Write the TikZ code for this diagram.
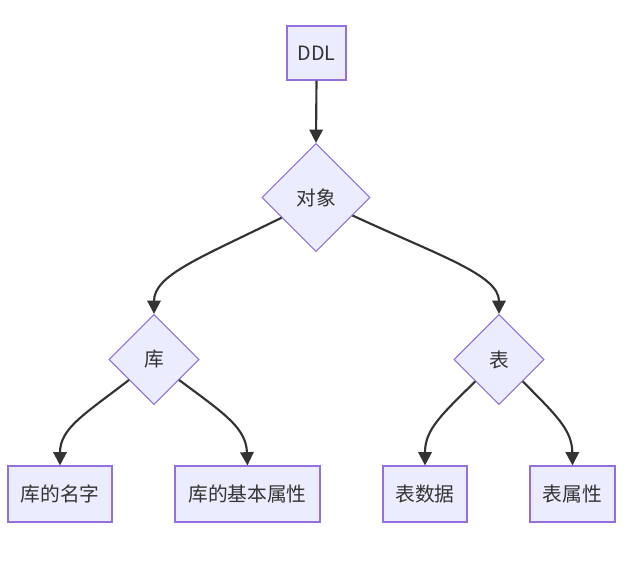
\documentclass[tikz,border=0pt]{standalone}
\usepackage{fontspec}
\setmainfont{Noto Sans CJK SC}
\usetikzlibrary{shapes.geometric,arrows.meta,calc}
\definecolor{nfill}{HTML}{ECECFF}
\definecolor{nstroke}{HTML}{9370DB}
\definecolor{edge}{HTML}{333333}
\begin{document}
\begin{tikzpicture}[x=0.75pt,y=-0.75pt,
  base/.style={fill=nfill,draw=nstroke,line width=0.8pt,font=\fontsize{14.8}{16}\selectfont,text=edge,inner sep=0pt},
  rbox/.style={base,rectangle,minimum height=42pt},
  dia/.style={base,diamond,aspect=1},
  conn/.style={draw=edge,line width=1.6pt,-{Triangle[length=10pt,width=10pt]}}]
\useasboundingbox (0,0) rectangle (644,573);
\node[rbox,minimum width=44.25pt,minimum height=40.5pt] (ddl) at (316.5,53) {DDL};
\node[dia,minimum width=81pt,minimum height=81pt] (dx) at (316,197.5) {对象};
\node[dia,minimum width=67.5pt,minimum height=67.5pt] (ku) at (154,359.5) {库};
\node[dia,minimum width=67.5pt,minimum height=67.5pt] (bi) at (499,359.5) {表};
\node[rbox,minimum width=78pt] (n1) at (60,494) {库的名字};
\node[rbox,minimum width=108.75pt] (n2) at (247.5,494) {库的基本属性};
\node[rbox,minimum width=63pt] (n3) at (425,494) {表数据};
\node[rbox,minimum width=63.75pt] (n4) at (572.5,494) {表属性};
\draw[conn] (ddl.south) -- (dx.north);
\coordinate (a1) at ($(dx.west)!0.37!(dx.south)$);
\coordinate (a2) at ($(dx.east)!0.33!(dx.south)$);
\coordinate (b1) at ($(ku.west)!0.45!(ku.south)$);
\coordinate (b2) at ($(ku.east)!0.45!(ku.south)$);
\coordinate (c1) at ($(bi.west)!0.48!(bi.south)$);
\coordinate (c2) at ($(bi.east)!0.48!(bi.south)$);
\draw[conn] (a1) .. controls (200,258) and (154,275) .. (ku.north);
\draw[conn] (a2) .. controls (440,256) and (499,275) .. (bi.north);
\draw[conn] (b1) .. controls (85,414) and (60,428) .. (n1.north);
\draw[conn] (b2) .. controls (225,414) and (246,428) .. (n2.north);
\draw[conn] (c1) .. controls (440,416) and (425,430) .. (n3.north);
\draw[conn] (c2) .. controls (557,416) and (572,430) .. (n4.north);
\end{tikzpicture}
\end{document}
